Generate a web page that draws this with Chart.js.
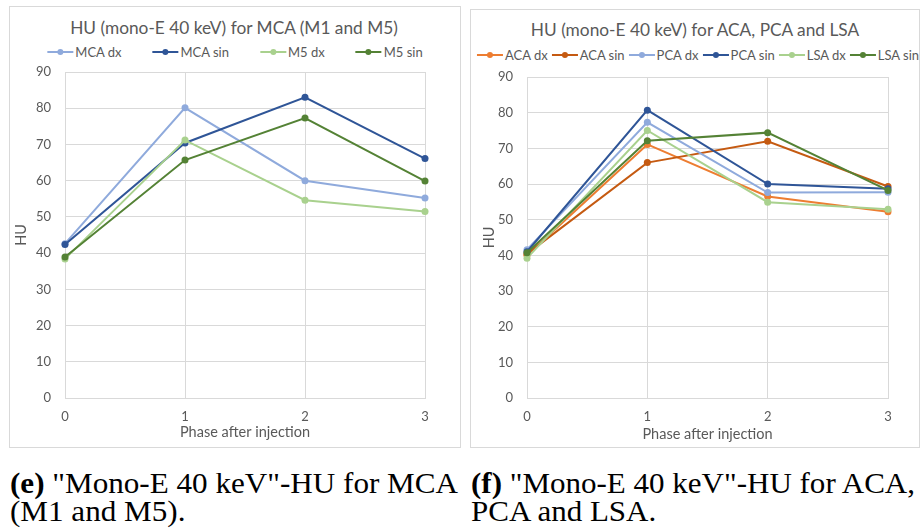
<!DOCTYPE html>
<html lang="en">
<head>
<meta charset="UTF-8">
<title>HU (mono-E 40 keV)</title>
<style>
  body {
    margin: 0;
    width: 921px;
    height: 531px;
    overflow: hidden;
    position: relative;
    background: #fff;
    font-family: Lato, "Open Sans", sans-serif;
    color: #595959;
  }
  .panel {
    position: absolute;
    box-sizing: border-box;
    border: 1px solid #d9d9d9;
  }
  canvas { position: absolute; }
  .title {
    position: absolute;
    font-size: 17.3px;
    line-height: 20px;
    white-space: nowrap;
    transform: translateX(-50%);
  }
  .legend {
    position: absolute;
    display: flex;
    white-space: nowrap;
    font-size: 13px;
    line-height: 16px;
    transform: translateX(-50%);
  }
  .legend span { display: inline-flex; align-items: center; }
  .legend i {
    position: relative;
    width: 26px;
    height: 8px;
    margin-right: 2px;
  }
  .legend i::before {
    content: '';
    position: absolute;
    left: 0; right: 0; top: 3px;
    height: 2px;
    background: var(--c);
  }
  .legend i::after {
    content: '';
    position: absolute;
    left: 10px; top: 1px;
    width: 6px; height: 6px;
    border-radius: 50%;
    background: var(--c);
  }
  .cap {
    position: absolute;
    font-family: "Liberation Serif", "DejaVu Serif", serif;
    font-size: 28.5px;
    line-height: 28px;
    color: #000;
  }
  .cap div { white-space: nowrap; transform-origin: 0 0; width: max-content; }
</style>
</head>
<body>

<div class="panel" style="left:9px; top:6px; width:452px; height:442px;"></div>
<div class="panel" style="left:470px; top:9px; width:450px; height:439px;"></div>

<div class="title" style="left:234px; top:18px;">HU (mono-E 40 keV) for MCA (M1 and M5)</div>
<div class="title" style="left:695px; top:20px;">HU (mono-E 40 keV) for ACA, PCA and LSA</div>

<div class="legend" id="legendE" style="left:235px; top:44px; gap:31px;"></div>
<div class="legend" id="legendF" style="left:698px; top:47px; gap:4px;"></div>

<canvas id="chartE" width="450" height="440" style="left:10px; top:7px;"></canvas>
<canvas id="chartF" width="448" height="437" style="left:471px; top:10px;"></canvas>

<div class="cap" data-w="448" style="left:10px; top:470px;">
  <div><b>(e)</b> "Mono-E 40 keV"-HU for MCA</div>
  <div>(M1 and M5).</div>
</div>
<div class="cap" data-w="444" style="left:471px; top:470px;">
  <div><b>(f)</b> "Mono-E 40 keV"-HU for ACA,</div>
  <div>PCA and LSA.</div>
</div>

<script src="https://cdn.jsdelivr.net/npm/chart.js"></script>
<script>
  // phases after injection (x axis)
  const phases = ['0', '1', '2', '3'];

  // MCA (M1 and M5), HU at 40 keV
  const mcaDx  = [42.6, 80.1, 60.0, 55.2];
  const mcaSin = [42.4, 70.4, 83.0, 66.1];
  const m5Dx   = [38.4, 71.2, 54.6, 51.5];
  const m5Sin  = [38.9, 65.7, 77.3, 59.9];

  // ACA, PCA and LSA, HU at 40 keV
  const acaDx  = [40.0, 71.1, 56.5, 52.2];
  const acaSin = [40.4, 66.0, 72.0, 59.3];
  const pcaDx  = [41.6, 77.3, 57.6, 57.7];
  const pcaSin = [41.0, 80.7, 60.0, 58.7];
  const lsaDx  = [39.2, 75.0, 54.9, 52.9];
  const lsaSin = [40.7, 72.1, 74.4, 58.2];

  const C = {
    blueLight: '#8faadc', blueDark: '#2f5597',
    greenLight: '#a9d18e', greenDark: '#548235',
    orange: '#ed7d31', orangeDark: '#c55a11'
  };

  Chart.defaults.font.family = 'Lato, "Open Sans", sans-serif';
  Chart.defaults.font.size = 13;
  Chart.defaults.color = '#595959';

  function series(label, data, color) {
    return { label, data, color };
  }

  function buildLegend(id, list) {
    const box = document.getElementById(id);
    list.forEach(s => {
      const item = document.createElement('span');
      item.innerHTML = '<i style="--c:' + s.color + '"></i>' + s.label;
      box.appendChild(item);
    });
  }

  function makeChart(id, list, geo) {
    const n = list.length;
    const datasets = list.map((s, i) => ({
      label: s.label,
      data: s.data,
      borderColor: s.color,
      backgroundColor: s.color,
      borderWidth: 2,
      pointRadius: 3.5,
      pointBorderWidth: 0,
      pointBackgroundColor: s.color,
      tension: 0,
      order: n - i   // later series drawn on top
    }));

    new Chart(document.getElementById(id), {
      type: 'line',
      data: { labels: phases, datasets },
      options: {
        responsive: false,
        animation: false,
        layout: { padding: { top: geo.top, right: geo.right, bottom: 0, left: 0 } },
        plugins: { legend: { display: false }, tooltip: { enabled: false } },
        scales: {
          x: {
            offset: false,
            grid: { color: '#d9d9d9', drawTicks: false },
            border: { color: '#d9d9d9' },
            ticks: { padding: 11 },
            title: {
              display: true, text: 'Phase after injection', font: { size: 14.5 },
              padding: { top: 0, bottom: geo.xTitlePad }
            },
            afterFit(scale) { scale.height = geo.xHeight; }
          },
          y: {
            min: 0,
            max: 90,
            grid: { color: '#d9d9d9', drawTicks: false },
            border: { color: '#d9d9d9' },
            ticks: { stepSize: 10, padding: 14 },
            title: {
              display: true, text: 'HU', font: { size: 14.5 },
              padding: { top: geo.yTitlePad, bottom: 0 }
            },
            afterFit(scale) { scale.width = geo.yWidth; }
          }
        }
      }
    });
  }

  const listE = [
    series('MCA dx', mcaDx, C.blueLight),
    series('MCA sin', mcaSin, C.blueDark),
    series('M5 dx', m5Dx, C.greenLight),
    series('M5 sin', m5Sin, C.greenDark)
  ];
  const listF = [
    series('ACA dx', acaDx, C.orange),
    series('ACA sin', acaSin, C.orangeDark),
    series('PCA dx', pcaDx, C.blueLight),
    series('PCA sin', pcaSin, C.blueDark),
    series('LSA dx', lsaDx, C.greenLight),
    series('LSA sin', lsaSin, C.greenDark)
  ];

  buildLegend('legendE', listE);
  buildLegend('legendF', listF);

  makeChart('chartE', listE, { top: 65, right: 35, xHeight: 49, yWidth: 55, xTitlePad: 6, yTitlePad: 3 });
  makeChart('chartF', listF, { top: 67, right: 31, xHeight: 49, yWidth: 56, xTitlePad: 4, yTitlePad: 10 });

  // squeeze each caption so its first line fills the column width
  document.querySelectorAll('.cap').forEach(cap => {
    const lines = cap.querySelectorAll('div');
    const k = +cap.dataset.w / lines[0].getBoundingClientRect().width;
    lines.forEach(el => { el.style.transform = 'scaleX(' + k + ')'; });
  });
</script>
</body>
</html>
